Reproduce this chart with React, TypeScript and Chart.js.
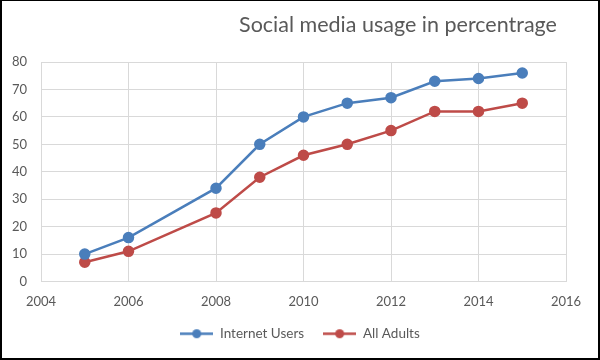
import React, { useEffect, useRef } from "react";
import { Chart, registerables } from "chart.js";

Chart.register(...registerables);

const titleText = "Social media usage in percentrage";
const years = [2005, 2006, 2008, 2009, 2010, 2011, 2012, 2013, 2014, 2015];
const internetUsers = [10, 16, 34, 50, 60, 65, 67, 73, 74, 76];
const allAdults = [7, 11, 25, 38, 46, 50, 55, 62, 62, 65];
const seriesNames = ["Internet Users", "All Adults"];
const xTicks = [2004, 2006, 2008, 2010, 2012, 2014, 2016];
const yTicks = [0, 10, 20, 30, 40, 50, 60, 70, 80];

const BLUE = "#4A7EBB";
const RED = "#BE4B48";
const TEXT = "#595959";
const GRID = "#D9D9D9";
const FONT = "Lato, 'Open Sans', sans-serif";

function legendImage(color: string): HTMLCanvasElement {
  const c = document.createElement("canvas");
  c.width = 33;
  c.height = 11;
  const g = c.getContext("2d")!;
  g.strokeStyle = color;
  g.lineWidth = 2.5;
  g.beginPath();
  g.moveTo(0, 5.5);
  g.lineTo(33, 5.5);
  g.stroke();
  g.fillStyle = color;
  g.beginPath();
  g.arc(16.5, 5.5, 4.5, 0, Math.PI * 2);
  g.fill();
  return c;
}

export default function App() {
  const ref = useRef<HTMLCanvasElement | null>(null);

  useEffect(() => {
    document.body.style.margin = "0";
    const canvas = ref.current;
    if (!canvas) return;
    const images = [legendImage(BLUE), legendImage(RED)];

    const framePlugin = {
      id: "frame",
      afterDraw(chart: any) {
        const ctx = chart.ctx;
        ctx.save();
        ctx.fillStyle = TEXT;
        ctx.font = `400 21.5px ${FONT}`;
        ctx.textAlign = "center";
        ctx.textBaseline = "middle";
        ctx.fillText(titleText, 398, 25);
        ctx.fillStyle = "#000";
        ctx.fillRect(0, 0, 600, 1);
        ctx.fillRect(0, 0, 2, 360);
        ctx.fillRect(598, 0, 2, 360);
        ctx.fillRect(0, 358, 600, 2);
        ctx.restore();
      },
    };

    const chart = new Chart(canvas, {
      type: "line",
      data: {
        datasets: [
          {
            label: seriesNames[0],
            data: years.map((y, i) => ({ x: y, y: internetUsers[i] })),
            borderColor: BLUE,
            backgroundColor: BLUE,
            pointBackgroundColor: BLUE,
            pointBorderColor: BLUE,
            borderWidth: 2.5,
            pointRadius: 4.5,
            pointHoverRadius: 4.5,
            tension: 0,
          },
          {
            label: seriesNames[1],
            data: years.map((y, i) => ({ x: y, y: allAdults[i] })),
            borderColor: RED,
            backgroundColor: RED,
            pointBackgroundColor: RED,
            pointBorderColor: RED,
            borderWidth: 2.5,
            pointRadius: 4.5,
            pointHoverRadius: 4.5,
            tension: 0,
          },
        ],
      },
      options: {
        responsive: false,
        animation: false,
        devicePixelRatio: 1,
        layout: { padding: { left: 0, right: 0, top: 62, bottom: 9.5 } },
        scales: {
          x: {
            type: "linear",
            min: xTicks[0],
            max: xTicks[xTicks.length - 1],
            afterBuildTicks: (s: any) => {
              s.ticks = xTicks.map((v) => ({ value: v }));
            },
            afterFit: (s: any) => {
              s.height = 26.5;
            },
            grid: { color: GRID, lineWidth: 1, drawTicks: false },
            border: { color: GRID, width: 1 },
            ticks: {
              color: TEXT,
              font: { family: FONT, size: 13 },
              padding: 13,
              callback: (v: any) => String(v),
              maxRotation: 0,
            },
          },
          y: {
            min: yTicks[0],
            max: yTicks[yTicks.length - 1],
            afterBuildTicks: (s: any) => {
              s.ticks = yTicks.map((v) => ({ value: v }));
            },
            afterFit: (s: any) => {
              s.width = 41;
            },
            grid: { color: GRID, lineWidth: 1, drawTicks: false },
            border: { color: GRID, width: 1 },
            ticks: {
              color: TEXT,
              font: { family: FONT, size: 13 },
              padding: 14,
              callback: (v: any) => String(v),
            },
          },
          yRight: {
            position: "right",
            display: true,
            min: 0,
            max: 80,
            grid: { display: false, drawTicks: false },
            border: { display: false },
            ticks: { display: false },
            afterFit: (s: any) => {
              s.width = 34;
            },
          },
        },
        plugins: {
          title: { display: false },
          tooltip: { enabled: false },
          legend: {
            display: true,
            position: "bottom",
            labels: {
              color: TEXT,
              font: { family: FONT, size: 13.5 },
              usePointStyle: true,
              pointStyleWidth: 33,
              padding: 19,
              generateLabels: (c: any) => {
                const items = Chart.defaults.plugins.legend.labels.generateLabels(c);
                return items.map((it: any, i: number) => ({ ...it, pointStyle: images[i] }));
              },
            },
          },
        },
      },
      plugins: [framePlugin],
    } as any);

    return () => chart.destroy();
  }, []);

  return (
    <div style={{ width: 600, height: 360 }}>
      <canvas ref={ref} width={600} height={360} style={{ display: "block" }} />
    </div>
  );
}
